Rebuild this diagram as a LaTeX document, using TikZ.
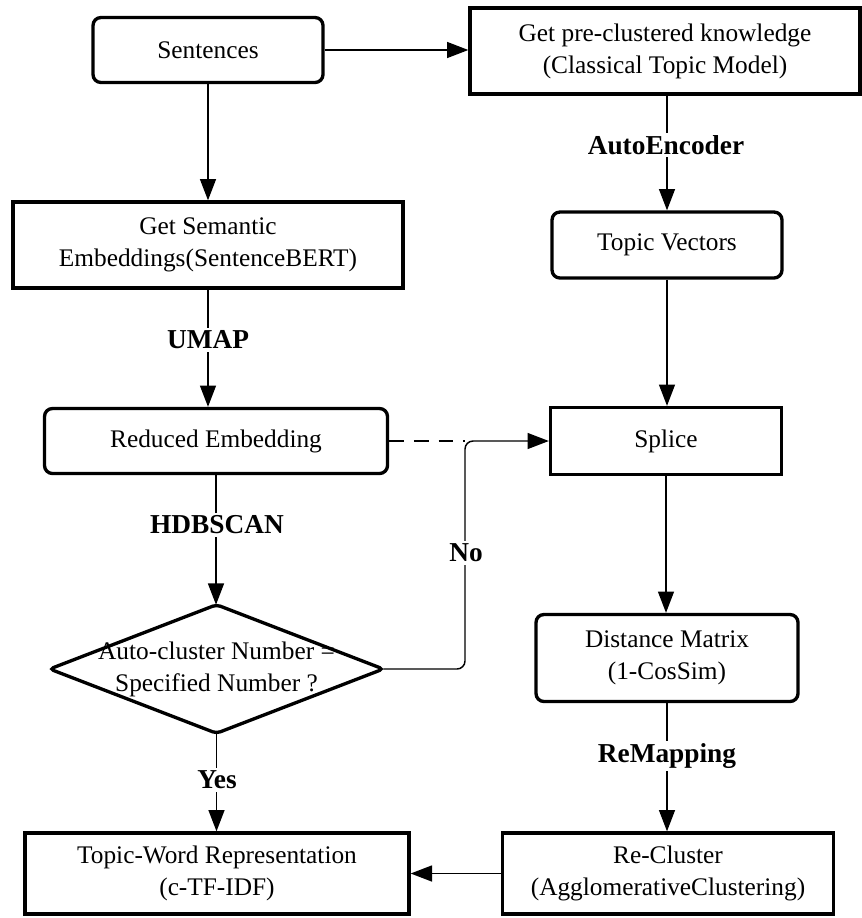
\documentclass[tikz,border=0pt]{standalone}
\usepackage{fontspec}
\setmainfont{Liberation Serif}
\usetikzlibrary{arrows.meta}
\begin{document}
\begin{tikzpicture}[x=0.75pt,y=-0.75pt,
  box/.style={draw, line width=2.5pt, align=center, inner sep=0pt, font=\fontsize{19}{24}\selectfont},
  sharpbox/.style={box},
  roundbox/.style={box, rounded corners=6pt},
  conn/.style={line width=1.1pt, -{Triangle[length=16pt,width=12pt]}},
  plain/.style={line width=1.1pt},
  lbl/.style={fill=white, inner sep=2pt, font=\fontsize{20.5}{24}\selectfont\bfseries}]
\useasboundingbox (0,0) rectangle (862,918);

% nodes
\node[roundbox, minimum width=172.5pt, minimum height=48.75pt] (sent) at (208,50) {Sentences};
\node[sharpbox, minimum width=292.5pt, minimum height=64.5pt] (pre) at (665,51) {Get pre-clustered knowledge\\(Classical Topic Model)};
\node[sharpbox, minimum width=292.5pt, minimum height=64.5pt] (sem) at (208,245) {Get Semantic\\Embeddings(SentenceBERT)};
\node[roundbox, minimum width=172.5pt, minimum height=49.5pt] (tv) at (667,245) {Topic Vectors};
\node[roundbox, minimum width=257.25pt, minimum height=48.75pt] (red) at (216,441) {Reduced Embedding};
\node[sharpbox, minimum width=173.25pt, minimum height=50.25pt] (spl) at (666,441) {Splice};
\node[draw=none, align=center, inner sep=0pt, minimum width=249.75pt, minimum height=96pt, font=\fontsize{19}{24}\selectfont] (dia) at (216.5,669) {Auto-cluster Number =\\Specified Number ?};
\draw[line width=2.5pt, rounded corners=3pt] (dia.north) -- (dia.east) -- (dia.south) -- (dia.west) -- cycle;
\node[roundbox, minimum width=196.5pt, minimum height=65.25pt] (dm) at (667,658) {Distance Matrix\\(1-CosSim)};
\node[sharpbox, minimum width=288pt, minimum height=60.75pt] (tw) at (217,873.5) {Topic-Word Representation\\(c-TF-IDF)};
\node[sharpbox, minimum width=248.25pt, minimum height=60.75pt] (rc) at (668,873.5) {Re-Cluster\\(AgglomerativeClustering)};

\coordinate (jn) at (465,441);

% connectors
\draw[conn] (sent.east) -- (sent.east -| pre.west);
\draw[conn] (sent.south) -- (sem.north);
\draw[conn] (sem.south) -- (sem.south |- red.north);
\draw[conn] (red.south) -- (red.south |- dia.north);
\draw[conn] (dia.south) -- (dia.south |- tw.north);
\draw[conn] (tv.north |- pre.south) -- (tv.north);
\draw[conn] (tv.south) -- (tv.south |- spl.north);
\draw[conn] (spl.south) -- (spl.south |- dm.north);
\draw[conn] (dm.south) -- (dm.south |- rc.north);
\draw[conn] (rc.west) -- (rc.west -| tw.east);
\draw[plain, dash pattern=on 11pt off 7.5pt] (red.east) -- (jn);
\draw[conn, rounded corners=6pt] (dia.east) -| (jn) -- (spl.west);

% labels
\node[lbl] (l1) at (666,145) {AutoEncoder};
\node[lbl] (l2) at (208,340) {UMAP};
\node[lbl] (l3) at (217,525) {HDBSCAN};
\node[lbl] (l4) at (466,553) {No};
\node[lbl] (l5) at (217,780) {Yes};
\node[lbl] (l6) at (667,756) {ReMapping};
\end{tikzpicture}
\end{document}
